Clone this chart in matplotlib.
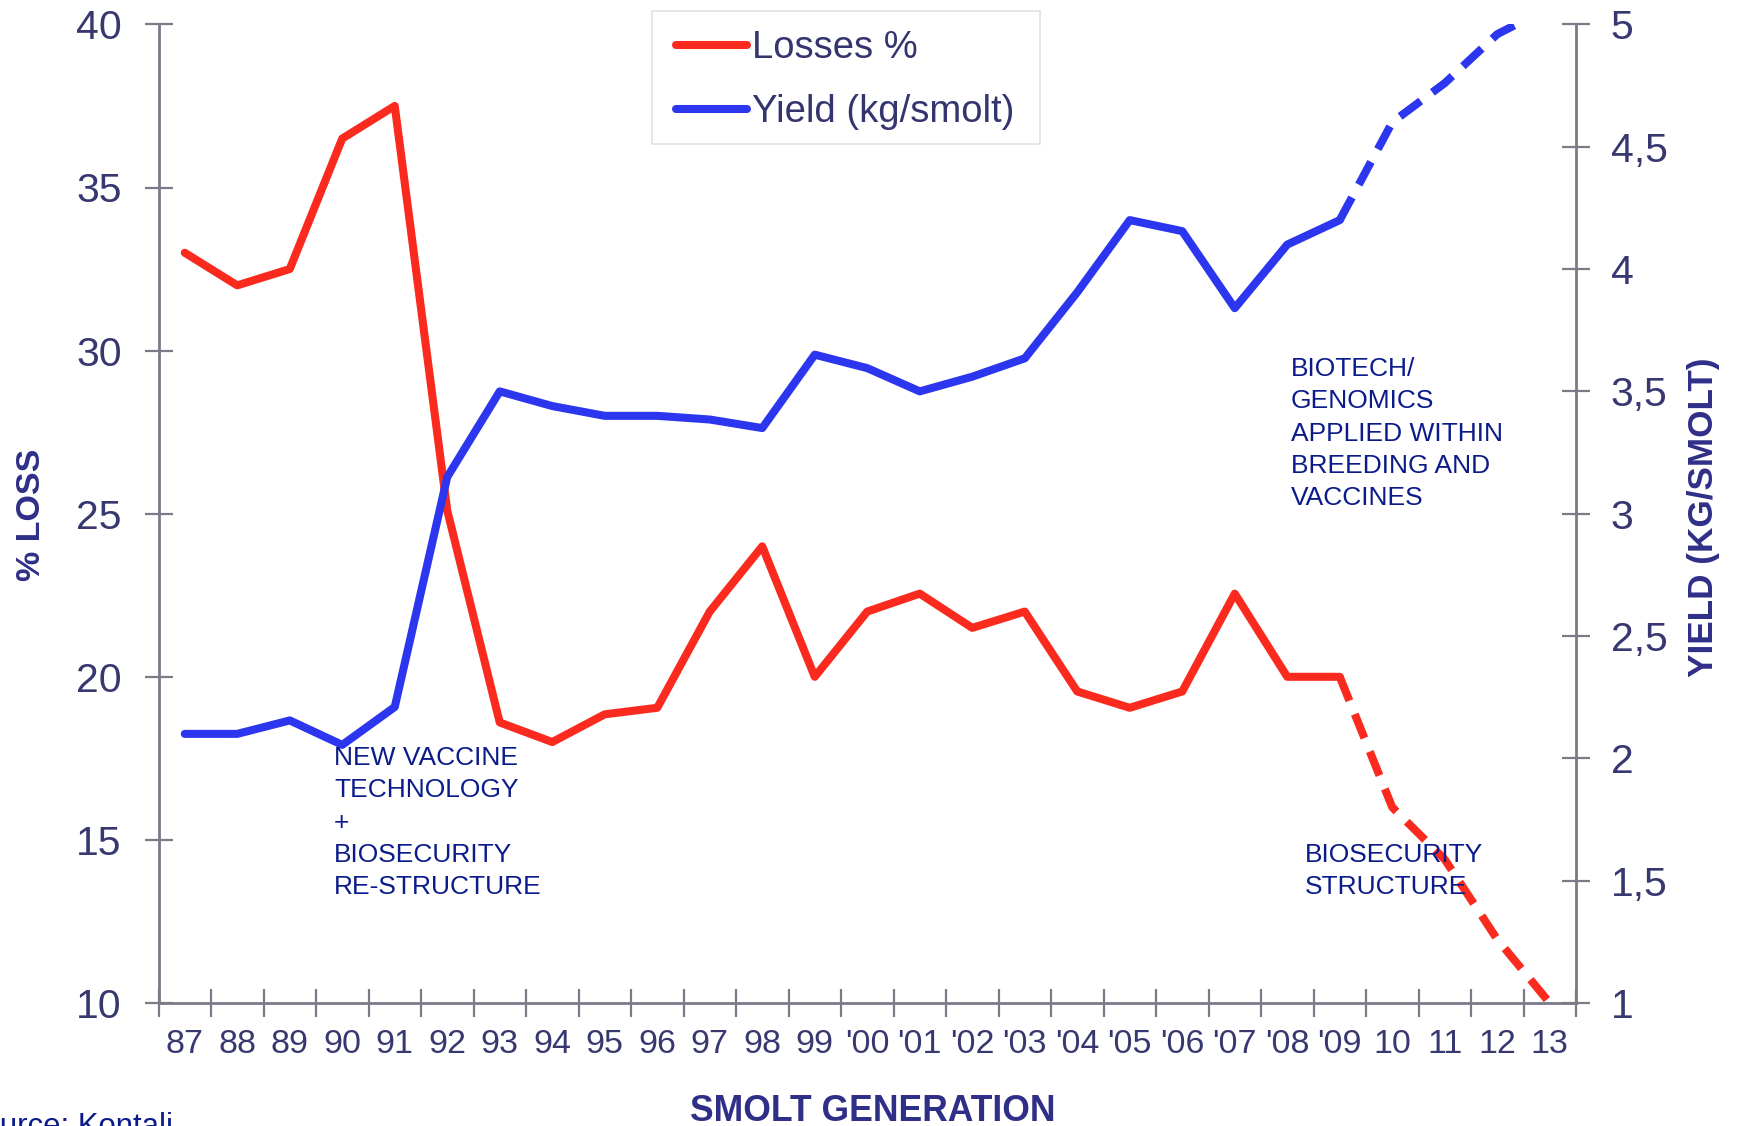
import matplotlib
matplotlib.use('Agg')
import matplotlib.pyplot as plt
from matplotlib.patches import Rectangle
import numpy as np

# ---------------- data ----------------
generations = ["87", "88", "89", "90", "91", "92", "93", "94", "95", "96", "97", "98", "99",
               "'00", "'01", "'02", "'03", "'04", "'05", "'06", "'07", "'08", "'09",
               "10", "11", "12", "13"]
losses_pct = [33.0, 32.0, 32.5, 36.5, 37.5, 25.1, 18.6, 18.0, 18.85, 19.05, 22.0, 24.0, 20.0,
              22.0, 22.55, 21.5, 22.0, 19.55, 19.05, 19.55, 22.55, 20.0, 20.0,
              16.0, 14.4, 11.95, 10.0]
yield_kg = [2.10, 2.10, 2.155, 2.055, 2.21, 3.15, 3.50, 3.44, 3.40, 3.40, 3.385, 3.35, 3.65,
            3.595, 3.50, 3.56, 3.635, 3.905, 4.20, 4.155, 3.84, 4.10, 4.20,
            4.60, 4.76, 4.96, 5.07]
last_actual = "'09"
left_ticks = [10, 15, 20, 25, 30, 35, 40]
right_ticks = [1, 1.5, 2, 2.5, 3, 3.5, 4, 4.5, 5]
right_tick_labels = ["1", "1,5", "2", "2,5", "3", "3,5", "4", "4,5", "5"]
series_labels = ["Losses %", "Yield (kg/smolt)"]
note_vaccine = "NEW VACCINE\nTECHNOLOGY\n+\nBIOSECURITY\nRE-STRUCTURE"
note_biotech = "BIOTECH/\nGENOMICS\nAPPLIED WITHIN\nBREEDING AND\nVACCINES"
note_biosec = "BIOSECURITY\nSTRUCTURE"

# ---------------- style ----------------
W, H = 1738, 1126
RED = '#fb2a1e'
BLUE = '#2b36ee'
TICKC = '#383870'
LABC = '#2f2f88'
NOTEC = '#0b1c8a'
SPINEC = '#7a7a88'
LW = 5.8
DASH = (0, (3.2, 1.8))

def fx(x):
    return x / W

def fy(y):
    return 1 - y / H

fig = plt.figure(figsize=(W / 100, H / 100), dpi=100)
ax_l, ax_r, ax_t, ax_b = 158.5, 1576, 24.4, 1003
ax = fig.add_axes([fx(ax_l), fy(ax_b), fx(ax_r) - fx(ax_l), fy(ax_t) - fy(ax_b)])
ax2 = ax.twinx()

x = np.arange(len(generations))
k = generations.index(last_actual)

l1, = ax.plot(x[:k + 1], losses_pct[:k + 1], color=RED, lw=LW,
              solid_capstyle='round', solid_joinstyle='round')
ax.plot(x[k:], losses_pct[k:], color=RED, lw=LW, ls=DASH, dash_capstyle='butt')
l2, = ax2.plot(x[:k + 1], yield_kg[:k + 1], color=BLUE, lw=LW,
               solid_capstyle='round', solid_joinstyle='round')
ax2.plot(x[k:], yield_kg[k:], color=BLUE, lw=LW, ls=DASH, dash_capstyle='butt')

ax.set_xlim(-0.5, len(generations) - 0.5)
ax.set_ylim(left_ticks[0], left_ticks[-1])
ax2.set_ylim(right_ticks[0], right_ticks[-1])

for a in (ax, ax2):
    a.spines['top'].set_visible(False)
ax.spines['right'].set_visible(False)
ax2.spines['left'].set_visible(False)
ax2.spines['bottom'].set_visible(False)
for s in (ax.spines['left'], ax.spines['bottom'], ax2.spines['right']):
    s.set_color(SPINEC)
    s.set_linewidth(2.0)

# x axis
ax.set_xticks(x)
ax.set_xticklabels(generations, fontfamily='Liberation Sans', fontsize=24.5, color=TICKC)
ax.tick_params(axis='x', which='major', length=0, pad=19)
ax.set_xticks(np.arange(-0.5, len(generations), 1.0), minor=True)
ax.tick_params(axis='x', which='minor', direction='inout', length=20, width=1.6, color=SPINEC)

# left y axis
ax.set_yticks(left_ticks)
ax.set_yticklabels([str(v) for v in left_ticks], fontfamily='Liberation Sans', fontsize=29.5, color=TICKC)
ax.tick_params(axis='y', direction='inout', length=20, width=1.6, color=SPINEC, pad=16.5)

# right y axis
ax2.set_yticks(right_ticks)
ax2.set_yticklabels(right_tick_labels, fontfamily='Liberation Sans', fontsize=29.5, color=TICKC)
ax2.tick_params(axis='y', direction='inout', length=20, width=1.6, color=SPINEC, pad=15)

# axis titles
fig.text(fx(31), fy(515), "% LOSS", rotation=90, ha='center', va='center',
         fontfamily='Liberation Sans', fontweight='bold', fontsize=24.5, color=LABC)
fig.text(fx(1703), fy(517), "YIELD (KG/SMOLT)", rotation=90, ha='center', va='center',
         fontfamily='Liberation Sans', fontweight='bold', fontsize=25.3, color=LABC)
fig.text(fx(873), fy(1121), "SMOLT GENERATION", ha='center', va='baseline',
         fontfamily='Liberation Sans', fontweight='bold', fontsize=25.6, color=LABC)
fig.text(fx(173), fy(1135), "Source: Kontali", ha='right', va='baseline',
         fontfamily='Liberation Sans', fontsize=22.4, color=NOTEC)

# notes
note_kw = dict(ha='left', va='top', fontfamily='Liberation Sans', fontsize=19,
               color=NOTEC, linespacing=1.44)
fig.text(fx(334), fy(746), note_vaccine, **note_kw)
fig.text(fx(1291), fy(357), note_biotech, **note_kw)
fig.text(fx(1305), fy(843), note_biosec, **note_kw)

# legend box + legend
box = Rectangle((fx(652), fy(144)), fx(1040) - fx(652), (144 - 11) / H,
                transform=fig.transFigure, facecolor='white', edgecolor='#e2e2e2',
                linewidth=1.2, zorder=3)
fig.patches.append(box)
leg = fig.legend([l1, l2], series_labels, loc='upper left',
                 bbox_to_anchor=(fx(659), fy(13)), bbox_transform=fig.transFigure,
                 prop={'family': 'Liberation Sans', 'size': 27.5}, labelcolor='#34346e',
                 frameon=False, handlelength=1.85, handletextpad=0.13, borderpad=0.45,
                 labelspacing=0.74, borderaxespad=0)
leg.set_zorder(5)

fig.savefig('out.png', dpi=100)
